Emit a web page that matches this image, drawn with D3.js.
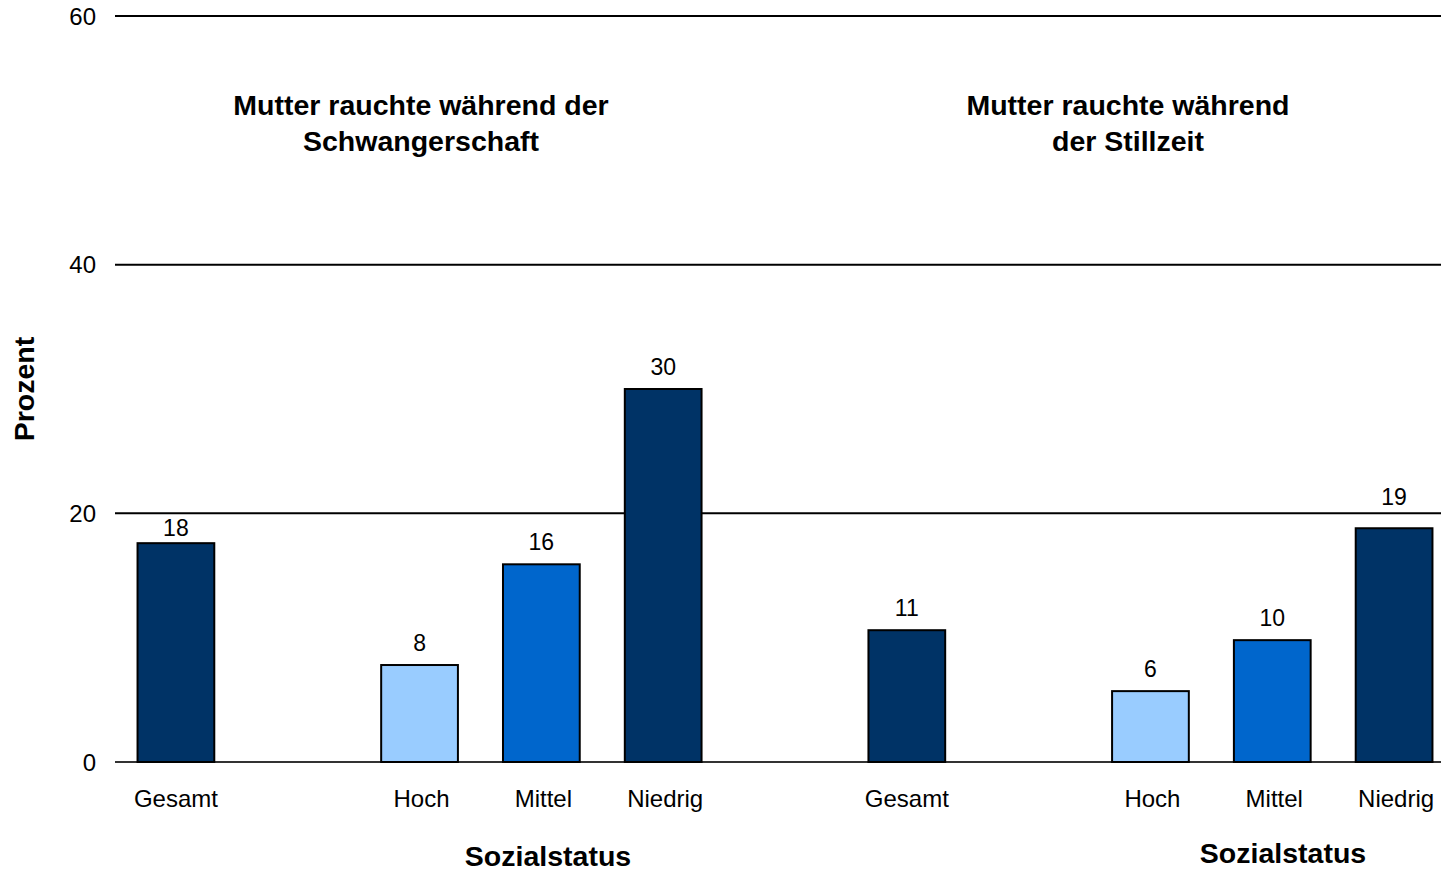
<!DOCTYPE html>
<html>
<head>
<meta charset="utf-8">
<script src="https://cdn.jsdelivr.net/npm/d3@7"></script>
<style>
  body { margin: 0; background: #fff; }
  svg { display: block; font-family: "Liberation Sans", Arial, sans-serif; }
</style>
</head>
<body>
<svg id="chart" width="1441" height="869"></svg>
<script>
// ----------

// slots along the x axis, empty ones are gaps between groups
const SLOTS = ["g1", "gap1", "h1", "m1", "n1", "gap2", "g2", "gap3", "h2", "m2", "n2"];
const BAR_SLOTS = ["g1", "h1", "m1", "n1", "g2", "h2", "m2", "n2"];
const BAR_NAMES = ["Gesamt", "Hoch", "Mittel", "Niedrig", "Gesamt", "Hoch", "Mittel", "Niedrig"];
const BAR_VALUES = [17.6, 7.8, 15.9, 30.0, 10.6, 5.7, 9.8, 18.8];
const BAR_LABELS = ["18", "8", "16", "30", "11", "6", "10", "19"];
const BAR_KIND = ["total", "high", "mid", "low", "total", "high", "mid", "low"];

const Y_TICKS = [0, 20, 40, 60];

const PANEL_TITLES = [
  ["Mutter rauchte während der", "Schwangerschaft"],
  ["Mutter rauchte während", "der Stillzeit"]
];

const COLORS = {
  total: "#003366",
  high: "#99CCFF",
  mid: "#0066CC",
  low: "#003366"
};

// labels close to the 20 gridline are moved off it
const LABEL_GAP = 14;
const LABEL_NUDGE = { g1: 7, n2: -9 };

// ----------

const svg = d3.select("#chart");

const x = d3.scaleBand().domain(SLOTS).range([115, 1455]).paddingInner(0.37).paddingOuter(0.185);
const y = d3.scaleLinear().domain([0, 60]).range([762, 16]);

// gridlines
svg.append("g")
  .selectAll("line")
  .data(Y_TICKS)
  .join("line")
  .attr("x1", 115)
  .attr("x2", 1441)
  .attr("y1", d => y(d))
  .attr("y2", d => y(d))
  .attr("stroke", d => d === 0 ? "#333" : "#000")
  .attr("stroke-width", 2);

// y tick labels
svg.append("g")
  .selectAll("text")
  .data(Y_TICKS)
  .join("text")
  .attr("x", 96)
  .attr("y", d => y(d))
  .attr("dy", "0.36em")
  .attr("text-anchor", "end")
  .attr("font-size", 24)
  .text(d => d);

// bars
const bars = BAR_SLOTS.map((s, i) => ({
  slot: s, name: BAR_NAMES[i], value: BAR_VALUES[i], label: BAR_LABELS[i], kind: BAR_KIND[i]
}));

svg.append("g")
  .selectAll("rect")
  .data(bars)
  .join("rect")
  .attr("x", d => x(d.slot))
  .attr("width", x.bandwidth())
  .attr("y", d => y(d.value))
  .attr("height", d => y(0) - y(d.value))
  .attr("fill", d => COLORS[d.kind])
  .attr("stroke", "#000")
  .attr("stroke-width", 2);

// value labels
svg.append("g")
  .selectAll("text")
  .data(bars)
  .join("text")
  .attr("x", d => x(d.slot) + x.bandwidth() / 2)
  .attr("y", d => y(d.value) - LABEL_GAP + (LABEL_NUDGE[d.slot] || 0))
  .attr("text-anchor", "middle")
  .attr("font-size", 23)
  .text(d => d.label);

// category labels
svg.append("g")
  .selectAll("text")
  .data(bars)
  .join("text")
  .attr("x", d => x(d.slot) + x.bandwidth() / 2 + (d.name === "Gesamt" ? 0 : 2))
  .attr("y", 807)
  .attr("text-anchor", "middle")
  .attr("font-size", 24)
  .text(d => d.name);

// panel titles
const titleX = [421, 1128];
PANEL_TITLES.forEach((lines, i) => {
  svg.append("text")
    .attr("x", titleX[i])
    .attr("y", 115)
    .attr("text-anchor", "middle")
    .attr("font-size", 28.5)
    .attr("font-weight", "bold")
    .selectAll("tspan")
    .data(lines)
    .join("tspan")
    .attr("x", titleX[i])
    .attr("dy", (d, j) => j === 0 ? 0 : 36)
    .text(d => d);
});

// axis titles
svg.append("text")
  .attr("transform", "translate(34,389) rotate(-90)")
  .attr("text-anchor", "middle")
  .attr("font-size", 28.5)
  .attr("font-weight", "bold")
  .text("Prozent");

svg.append("text")
  .attr("x", 548)
  .attr("y", 866)
  .attr("text-anchor", "middle")
  .attr("font-size", 28.5)
  .attr("font-weight", "bold")
  .text("Sozialstatus");

svg.append("text")
  .attr("x", 1283)
  .attr("y", 863)
  .attr("text-anchor", "middle")
  .attr("font-size", 28.5)
  .attr("font-weight", "bold")
  .text("Sozialstatus");
</script>
</body>
</html>
